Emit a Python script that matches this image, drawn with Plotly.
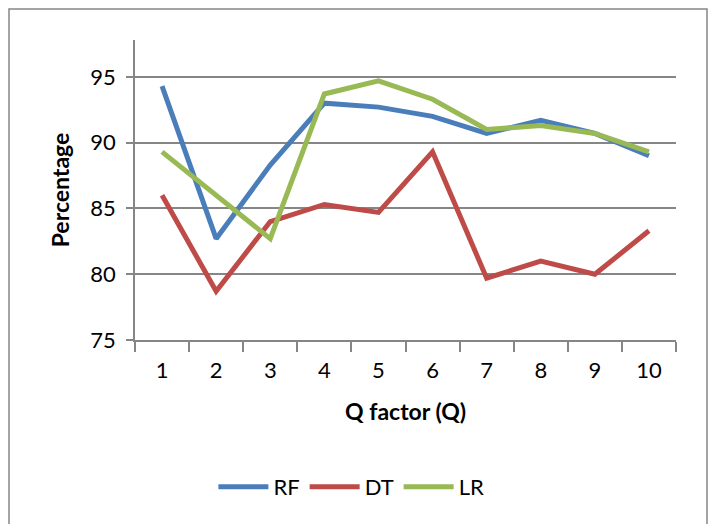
import plotly.graph_objects as go

q = [1, 2, 3, 4, 5, 6, 7, 8, 9, 10]
rf = [94.3, 82.7, 88.3, 93.0, 92.7, 92.0, 90.7, 91.7, 90.7, 89.0]
dt = [86.0, 78.7, 84.0, 85.3, 84.7, 89.3, 79.7, 81.0, 80.0, 83.3]
lr = [89.3, 86.0, 82.7, 93.7, 94.7, 93.3, 91.0, 91.3, 90.7, 89.3]
series = [("RF", rf, "#4a7ebb"), ("DT", dt, "#be4b48"), ("LR", lr, "#98b954")]

fig = go.Figure()
for name, vals, col in series:
    fig.add_trace(go.Scatter(x=q, y=vals, name=name, mode="lines",
                             line=dict(color=col, width=5)))

font = "Lato"
L, R, T, B = 135, 676, 40, 340
W, H = 710, 524
fig.update_layout(
    width=W, height=H,
    margin=dict(l=L, r=W - R, t=T, b=H - B),
    paper_bgcolor="white", plot_bgcolor="white",
    font=dict(family=font, size=22, color="black"),
    showlegend=True,
    legend=dict(orientation="h", x=0.40, xanchor="center", y=-0.49, yanchor="middle",
                font=dict(size=22), itemwidth=50, tracegroupgap=0),
    xaxis=dict(range=[0.5, 10.5], tickvals=q, ticktext=[str(v) for v in q],
               ticks="", showgrid=False, zeroline=False,
               showline=True, linecolor="#868686", linewidth=1.5,
               tickfont=dict(size=22),
               ticklabelstandoff=10,
               minor=dict(tickvals=[v + 0.5 for v in [0] + q], ticks="outside",
                          ticklen=10, tickcolor="#868686", tickwidth=1.5, showgrid=False),
               title=dict(text="<b>Q factor (Q)</b>", font=dict(size=23), standoff=22)),
    yaxis=dict(range=[75, 97.8], tickvals=[75, 80, 85, 90, 95],
               ticks="outside", ticklen=7, tickcolor="#868686", tickwidth=1.5,
               showgrid=True, gridcolor="#868686", gridwidth=1.5, zeroline=False,
               showline=True, linecolor="#868686", linewidth=1.5,
               tickfont=dict(size=22),
               ticklabelstandoff=6,
               title=dict(text="<b>Percentage</b>", font=dict(size=23), standoff=14)),
)
pw, ph = R - L, B - T
fig.add_shape(type="rect", xref="paper", yref="paper",
              x0=(9 - L) / pw, x1=(707 - L) / pw,
              y0=(B - 535) / ph, y1=(B - 9) / ph,
              line=dict(color="#868686", width=1.5), fillcolor="rgba(0,0,0,0)", layer="below")
fig.write_html("out.html")
